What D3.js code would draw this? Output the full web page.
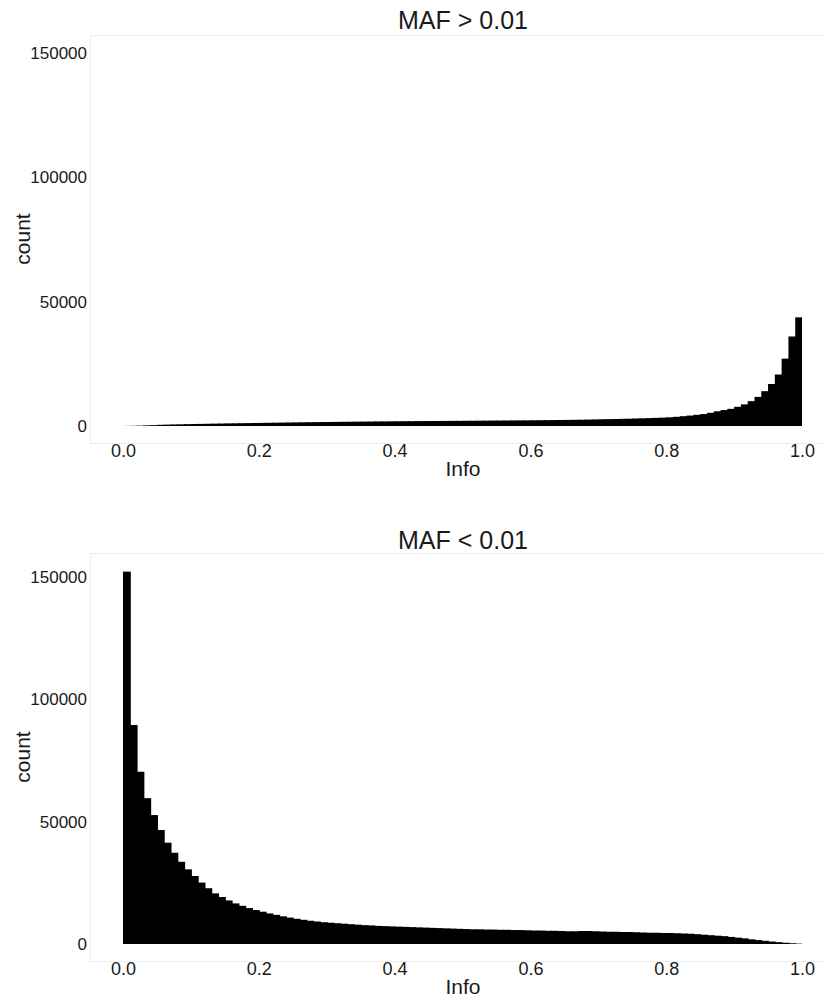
<!DOCTYPE html>
<html>
<head>
<meta charset="utf-8">
<script src="https://cdn.jsdelivr.net/npm/d3@7"></script>
<style>
  body { margin: 0; background: #fff; }
  text { font-family: "Liberation Sans", Arial, sans-serif; fill: #1a1a1a; }
</style>
</head>
<body>
<svg id="chart" width="825" height="996"></svg>
<script>
// histogram bins of width 0.01 on Info
var binWidth = 0.01;
var binStarts = d3.range(100).map(function(i){ return i / 100; });

// counts per bin, MAF > 0.01
var countsCommon = [
  30, 80, 150, 250, 350, 480, 560, 620, 680, 740,
  800, 850, 900, 950, 1000, 1050, 1090, 1130, 1170, 1210,
  1250, 1290, 1330, 1370, 1410, 1450, 1490, 1520, 1560, 1590,
  1620, 1650, 1680, 1710, 1740, 1770, 1800, 1830, 1850, 1880,
  1900, 1920, 1940, 1960, 1980, 2000, 2020, 2040, 2060, 2080,
  2100, 2120, 2140, 2160, 2180, 2200, 2220, 2240, 2260, 2280,
  2300, 2330, 2360, 2390, 2420, 2450, 2490, 2530, 2580, 2640,
  2700, 2760, 2820, 2880, 2950, 3020, 3100, 3180, 3270, 3380,
  3500, 3700, 3950, 4200, 4500, 4800, 5300, 5900, 6400, 6900,
  7700, 8700, 10000, 11700, 14000, 16900, 20700, 27100, 36000, 43700
];

// counts per bin, MAF < 0.01
var countsRare = [
  152200, 89500, 70400, 59600, 52700, 46600, 41400, 37300, 33600, 30500,
  27800, 25100, 22800, 20700, 19200, 17800, 16600, 15600, 14700, 13900,
  13200, 12500, 11900, 11300, 10800, 10300, 9900, 9500, 9200, 8900,
  8700, 8500, 8300, 8100, 7900, 7700, 7600, 7400, 7300, 7200,
  7100, 7000, 6900, 6800, 6700, 6600, 6500, 6400, 6300, 6200,
  6100, 6000, 6000, 5900, 5900, 5800, 5800, 5700, 5700, 5600,
  5500, 5500, 5400, 5400, 5300, 5200, 5200, 5300, 5300, 5200,
  5100, 5000, 5000, 4900, 4900, 4800, 4700, 4600, 4600, 4500,
  4500, 4400, 4300, 4200, 4000, 3800, 3600, 3400, 3200, 2900,
  2600, 2300, 1900, 1600, 1300, 1000, 750, 500, 300, 150
];

var titles = ["MAF > 0.01", "MAF < 0.01"];
var xTicks = [0, 0.2, 0.4, 0.6, 0.8, 1.0];
var yTicks = [0, 50000, 100000, 150000];

var svg = d3.select("#chart");

var panels = [
  {title: titles[0], counts: countsCommon, top: 35, bottom: 443, y0: 426, y150: 53, titleY: 20},
  {title: titles[1], counts: countsRare, top: 553, bottom: 961, y0: 944, y150: 577, titleY: 540}
];

var x = d3.scaleLinear().domain([0, 1]).range([123, 802]);

panels.forEach(function(p){
  var y = d3.scaleLinear().domain([0, 150000]).range([p.y0, p.y150]);
  var g = svg.append("g");

  // faint panel frame
  g.append("rect")
    .attr("x", 90.5).attr("y", p.top + 0.5)
    .attr("width", 740).attr("height", p.bottom - p.top)
    .attr("fill", "none")
    .attr("stroke", "#ececec")
    .attr("stroke-width", 1);

  // bars overlap a little so no seams show between neighbours
  g.append("g").selectAll("rect")
    .data(p.counts)
    .enter()
    .append("rect")
    .attr("x", function(d, i){ return x(binStarts[i]); })
    .attr("width", function(d, i){ return x(binStarts[i] + binWidth) - x(binStarts[i]) + (i < 99 ? 1 : 0); })
    .attr("y", function(d){ return y(d); })
    .attr("height", function(d){ return y(0) - y(d); })
    .attr("fill", "#000");

  var yAxis = d3.axisLeft(y).tickValues(yTicks).tickSize(0).tickPadding(0).tickFormat(d3.format("d"));
  var ya = g.append("g").attr("transform", "translate(87,0)").call(yAxis);
  ya.select(".domain").remove();
  ya.selectAll("text").attr("font-size", 17).attr("font-family", null).attr("fill", "#1a1a1a");

  var xAxis = d3.axisBottom(x).tickValues(xTicks).tickSize(0).tickPadding(0).tickFormat(d3.format(".1f"));
  var xa = g.append("g").attr("transform", "translate(0," + (p.bottom + 1) + ")").call(xAxis);
  xa.select(".domain").remove();
  xa.selectAll("text").attr("font-size", 18).attr("font-family", null).attr("fill", "#1a1a1a");

  g.append("text")
    .attr("x", 463).attr("y", p.titleY)
    .attr("text-anchor", "middle")
    .attr("dominant-baseline", "central")
    .attr("font-size", 25)
    .text(p.title);

  g.append("text")
    .attr("x", 463).attr("y", p.bottom + 25)
    .attr("text-anchor", "middle")
    .attr("dominant-baseline", "central")
    .attr("font-size", 21)
    .text("Info");

  g.append("text")
    .attr("transform", "translate(22," + ((p.top + p.bottom) / 2) + ") rotate(-90)")
    .attr("text-anchor", "middle")
    .attr("dominant-baseline", "central")
    .attr("font-size", 21)
    .text("count");
});
</script>
</body>
</html>
